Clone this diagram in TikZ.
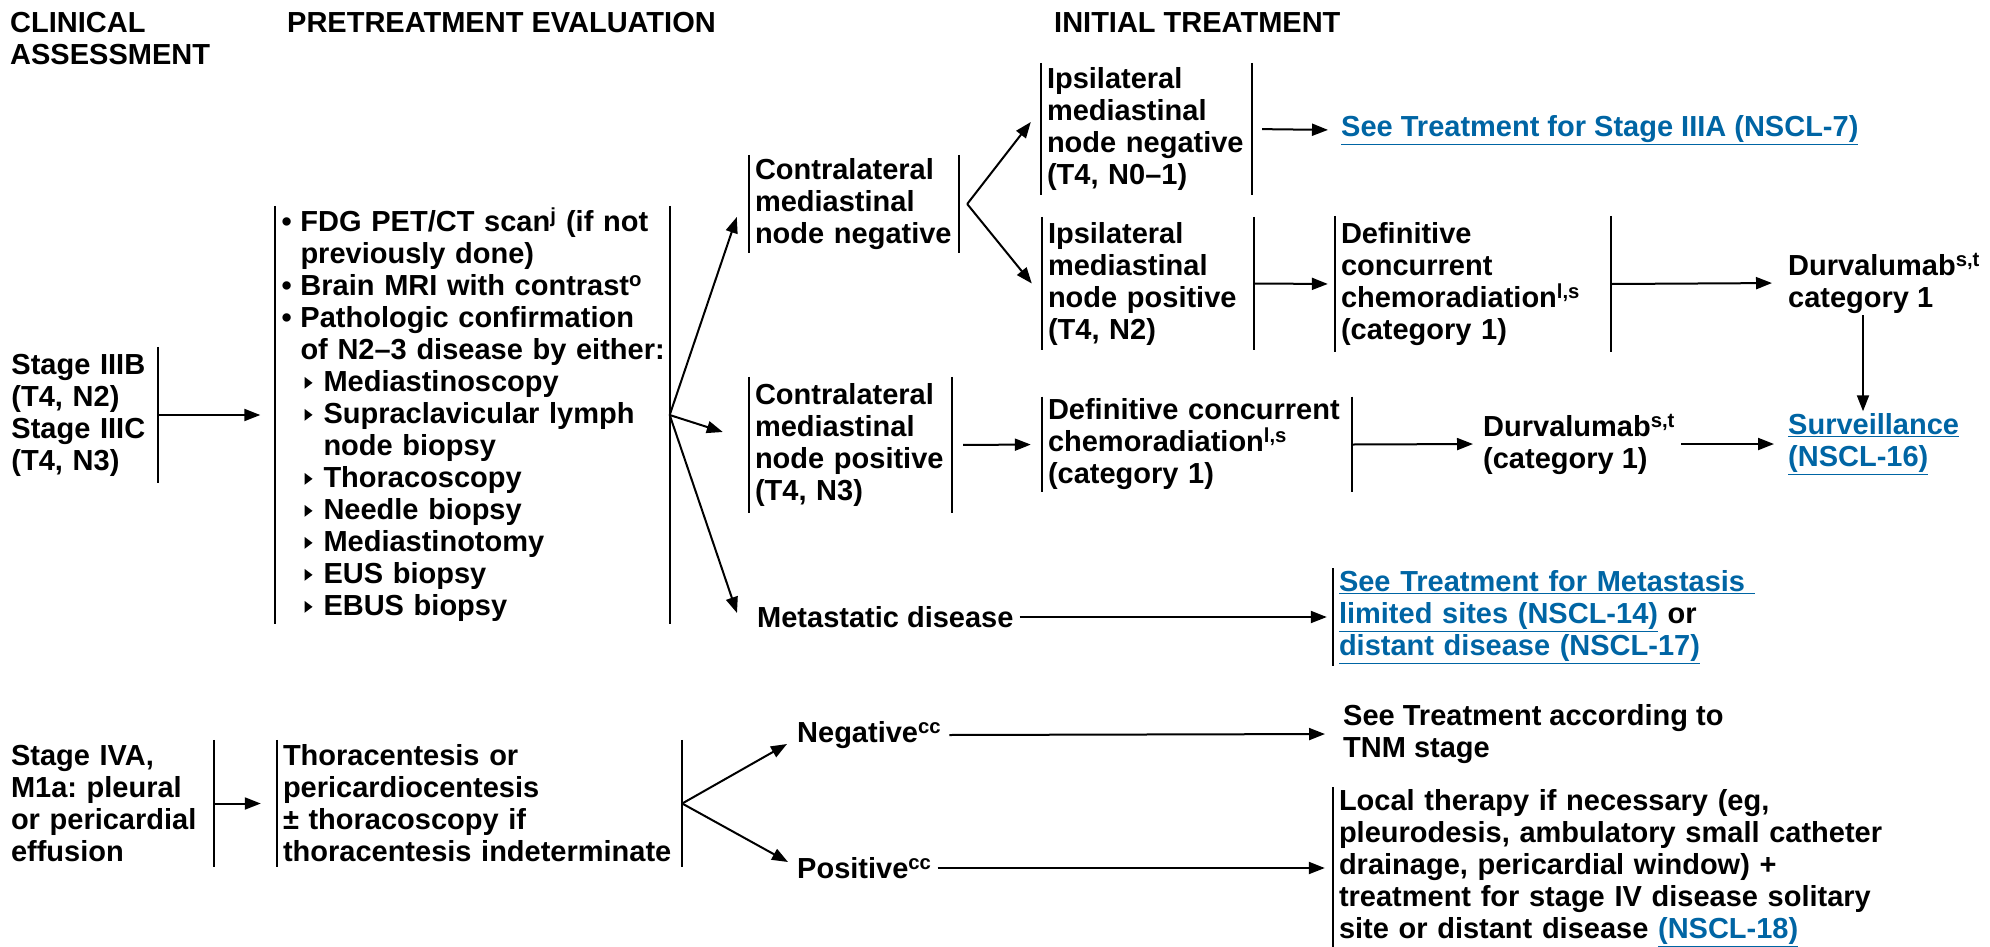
\documentclass[tikz,border=0pt]{standalone}
\usepackage{fontspec}
\setmainfont{Liberation Sans}
\usetikzlibrary{arrows.meta}
\definecolor{linkblue}{RGB}{0,101,164}
\newcommand{\lnk}[1]{{\color{linkblue}\underline{#1}}}
\newcommand{\tri}{\tikz[x=1pt,y=1pt,baseline=0pt]\fill (0,3) -- (0,15) -- (8,9) -- cycle;}
\hyphenpenalty=10000
\begin{document}
\begin{tikzpicture}[x=1pt, y=-1pt,
  every node/.style={font=\fontsize{29}{32}\selectfont\bfseries\frenchspacing, inner xsep=6pt, inner ysep=2pt},
  box/.style={align=left},
  bar/.style={line width=2pt},
  arr/.style={line width=2pt, -{Triangle[length=16pt,width=12pt]}}]
  \useasboundingbox (0,0) rectangle (1990,946);

  % column headers
  \node[anchor=north west, inner sep=0pt, align=left] (hclin) at (10,12) {CLINICAL\\ASSESSMENT};
  \node[anchor=north west, inner sep=0pt] (hpre) at (287,12) {PRETREATMENT EVALUATION};
  \node[anchor=north west, inner sep=0pt] (hinit) at (1054,12) {INITIAL TREATMENT};

  % stage IIIB / IIIC
  \node[box, text width=140pt, minimum height=136pt] (st3) at (81.5,415) {Stage IIIB\\(T4, N2)\\Stage IIIC\\(T4, N3)};
  \node[box, text width=382pt, minimum height=412pt] (pet) at (472.5,415) {%
    \makebox[19pt][l]{•}\mbox{FDG PET/CT scan\textsuperscript{j} (if not}\\
    \hspace*{19pt}previously done)\\
    \makebox[19pt][l]{•}\mbox{Brain MRI with contrast\textsuperscript{o}}\\
    \makebox[19pt][l]{•}\mbox{Pathologic confirmation}\\
    \hspace*{19pt}\mbox{of N2–3 disease by either:}\\
    \hspace*{23pt}\makebox[19pt][l]{\tri}Mediastinoscopy\\
    \hspace*{23pt}\makebox[19pt][l]{\tri}\mbox{Supraclavicular lymph}\\
    \hspace*{42pt}node biopsy\\
    \hspace*{23pt}\makebox[19pt][l]{\tri}Thoracoscopy\\
    \hspace*{23pt}\makebox[19pt][l]{\tri}Needle biopsy\\
    \hspace*{23pt}\makebox[19pt][l]{\tri}Mediastinotomy\\
    \hspace*{23pt}\makebox[19pt][l]{\tri}EUS biopsy\\
    \hspace*{23pt}\makebox[19pt][l]{\tri}EBUS biopsy};
  \node[box, text width=198pt, minimum height=98pt] (cneg) at (854,204) {Contralateral\\mediastinal\\node~negative};
  \node[box, text width=191pt, minimum height=136pt] (cpos) at (850.5,445) {Contralateral\\mediastinal\\node~positive\\(T4, N3)};
  \node[anchor=west] (meta) at (751,617) {Metastatic disease};

  % initial treatment
  \node[box, text width=199pt, minimum height=132pt] (ineg) at (1146.5,129) {Ipsilateral\\mediastinal\\node~negative\\(T4, N0–1)};
  \node[box, text width=200pt, minimum height=133pt] (ipos) at (1148,283.5) {Ipsilateral\\mediastinal\\node~positive\\(T4, N2)};
  \node[anchor=west] (stg3a) at (1335,130) {\lnk{See Treatment for Stage IIIA (NSCL-7)}};
  \node[box, text width=264pt, minimum height=136pt] (def1) at (1473,284) {Definitive\\concurrent\\chemoradiation\textsuperscript{l,s}\\(category 1)};
  \node[anchor=west, align=left] (durv1) at (1782,283) {Durvalumab\textsuperscript{s,t}\\category 1};
  \node[anchor=west, align=left] (surv) at (1782,444) {\lnk{Surveillance}\\\lnk{(NSCL-16)}};
  \node[box, text width=298pt, minimum height=85pt] (def2) at (1197,444.5) {Definitive~concurrent\\chemoradiation\textsuperscript{l,s}\\(category 1)};
  \node[anchor=west, align=left] (durv2) at (1477,444) {Durvalumab\textsuperscript{s,t}\\(category 1)};
  \node[box, text width=430pt, minimum height=96pt] (mlink) at (1554,617) {\lnk{See Treatment for Metastasis }\\\lnk{limited sites (NSCL-14)} or\\\lnk{distant disease (NSCL-17)}};

  % stage IVA
  \node[box, text width=197pt, minimum height=127pt] (st4) at (109.5,803.5) {Stage IVA,\\M1a: pleural\\or~pericardial\\effusion};
  \node[box, text width=393pt, minimum height=127pt] (thor) at (479.5,803.5) {Thoracentesis or\\pericardiocentesis\\± thoracoscopy if\\thoracentesis~indeterminate};
  \node[anchor=west] (neg) at (791,735) {Negative\textsuperscript{cc}};
  \node[anchor=west] (pos) at (791,868) {Positive\textsuperscript{cc}};
  \node[anchor=west, align=left] (tnm) at (1337,734) {See Treatment according to\\TNM stage};
  \node[box, text width=560pt, minimum height=150pt] (local) at (1619,868) {Local therapy if necessary (eg,\\pleurodesis, ambulatory small catheter\\drainage, pericardial window) +\\treatment for stage IV disease solitary\\site or distant disease \lnk{(NSCL-18)}};

  % bars
  \draw[bar] (st3.north east) -- (st3.south east);
  \draw[bar] (pet.north west) -- (pet.south west);
  \draw[bar] (pet.north east) -- (pet.south east);
  \draw[bar] (cneg.north west) -- (cneg.south west);
  \draw[bar] (cneg.north east) -- (cneg.south east);
  \draw[bar] (cpos.north west) -- (cpos.south west);
  \draw[bar] (cpos.north east) -- (cpos.south east);
  \draw[bar] (ineg.north west) -- (ineg.south west);
  \draw[bar] (ineg.north east) -- (ineg.south east);
  \draw[bar] (ipos.north west) -- (ipos.south west);
  \draw[bar] (ipos.north east) -- (ipos.south east);
  \draw[bar] (def1.north west) -- (def1.south west);
  \draw[bar] (def1.north east) -- (def1.south east);
  \draw[bar] (def2.north west) -- (def2.south west);
  \draw[bar] (def2.north east) -- (def2.south east);
  \draw[bar] (mlink.north west) -- (mlink.south west);
  \draw[bar] (st4.north east) -- (st4.south east);
  \draw[bar] (thor.north west) -- (thor.south west);
  \draw[bar] (thor.north east) -- (thor.south east);
  \draw[bar] (local.north west) -- (local.south west);

  % arrows
  \draw[arr, shorten >=15pt] (st3.east) -- (pet.west);
  \draw[arr] (pet.east) -- ([shift={(-12,13)}]cneg.west);
  \draw[arr] (pet.east) -- ([shift={(-26,-13)}]cpos.west);
  \draw[arr] (pet.east) -- ([shift={(-14,-4)}]meta.west);
  \draw[arr] ([xshift=8pt]cneg.east) -- ([shift={(-10,-7)}]ineg.west);
  \draw[arr] ([xshift=8pt]cneg.east) -- ([xshift=-10pt]ipos.west);
  \draw[arr, shorten <=10pt, shorten >=7pt] (ineg.east) -- (stg3a.west);
  \draw[arr, shorten >=7pt] (ipos.east) -- (def1.west);
  \draw[arr, shorten >=10pt] (def1.east) -- (durv1.west);
  \coordinate (dn) at (1863,0);
  \draw[arr] (durv1.south -| dn) -- (surv.north -| dn);
  \draw[arr, shorten <=11pt, shorten >=11pt] (cpos.east) -- (def2.west);
  \draw[arr, shorten >=4pt] (def2.east) -- (durv2.west);
  \draw[arr, shorten >=8pt] (durv2.east) -- (surv.west);
  \draw[arr, shorten >=6pt] (meta.east) -- (mlink.west);
  \draw[arr, shorten >=16pt] (st4.east) -- (thor.west);
  \draw[arr] (thor.east) -- ([shift={(-4,9)}]neg.west);
  \draw[arr] (thor.east) -- ([shift={(-3,-6)}]pos.west);
  \draw[arr, shorten <=2pt, shorten >=12pt] (neg.east) -- (tnm.west);
  \draw[arr, shorten >=8pt] (pos.east) -- (local.west);
\end{tikzpicture}
\end{document}
